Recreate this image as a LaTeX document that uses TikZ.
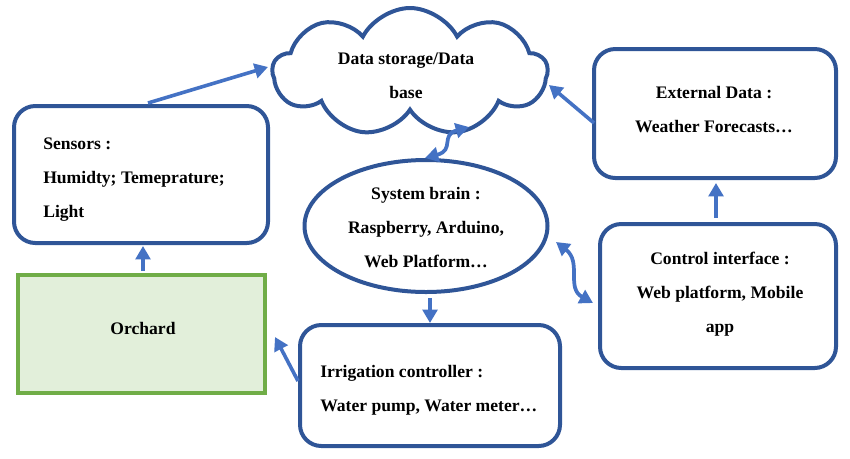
\documentclass[tikz,border=0pt]{standalone}
\usepackage{fontspec}
\setmainfont{Liberation Serif}
\usetikzlibrary{shapes.symbols,shapes.geometric,arrows.meta}
\definecolor{boxblue}{HTML}{2F5597}
\definecolor{arrblue}{HTML}{4472C4}
\definecolor{orchfill}{HTML}{E2EFDA}
\definecolor{orchline}{HTML}{70AD47}
\begin{document}
\begin{tikzpicture}[x=0.75pt,y=-0.75pt,
  rbox/.style={draw=boxblue,line width=3pt,rounded corners=16pt,inner sep=0pt},
  txt/.style={font=\bfseries\fontsize{13.2}{25.5}\selectfont,inner sep=0pt},
  arr/.style={draw=arrblue,line width=2.7pt,-{Triangle[length=10pt,width=11pt]}},
  darr/.style={draw=arrblue,line width=2.8pt,{Triangle[length=10pt,width=11pt]}-{Triangle[length=10pt,width=11pt]}}]
\useasboundingbox (0,0) rectangle (850,458);
% shapes
\node[cloud,draw=boxblue,line width=3pt,cloud puffs=9,cloud puff arc=125,aspect=2.2,
      minimum width=206pt,minimum height=96pt,inner sep=0pt] (cloud) at (410,72) {};
\node[rbox,minimum width=190.5pt,minimum height=102.75pt] (sensors) at (141,174.5) {};
\node[draw=orchline,fill=orchfill,line width=3pt,inner sep=0pt,minimum width=185.25pt,minimum height=88.5pt] (orchard) at (141.5,334) {};
\node[ellipse,draw=boxblue,line width=3pt,inner sep=0pt,minimum width=182.25pt,minimum height=99pt] (brain) at (426,226) {};
\node[rbox,minimum width=181.5pt,minimum height=96.75pt] (external) at (715,113.5) {};
\node[rbox,minimum width=177pt,minimum height=108pt] (control) at (718,296) {};
\node[rbox,minimum width=195pt,minimum height=90.75pt] (irrig) at (430,385.5) {};
% texts
\node[txt,align=center] (tcloud) at (406,76) {Data storage/Data\\base};
\node[txt,align=left,anchor=west] (tsensors) at (43,180) {Sensors :\\Humidty; Temeprature;\\Light};
\node[txt] (torchard) at (143,328) {Orchard};
\node[txt,align=center] (tbrain) at (426,228) {System brain :\\Raspberry, Arduino,\\Web Platform…};
\node[txt,align=center] (texternal) at (714,110) {External Data :\\Weather Forecasts…};
\node[txt,align=center] (tcontrol) at (720,294) {Control interface :\\Web platform, Mobile\\app};
\node[txt,align=left,anchor=west] (tirrig) at (320,390) {Irrigation controller :\\Water pump, Water meter…};
% connector end points
\coordinate (s1) at (148,103);
\coordinate (c1) at (268,67);
\coordinate (e1) at (594,123);
\coordinate (c2) at (549,85);
\coordinate (i1) at (298,381);
\coordinate (o1) at (275,337);
\coordinate (b1) at (425,158);
\coordinate (c3) at (469,127);
\coordinate (b2) at (556,242);
\coordinate (k1) at (593,303);
% connectors
\draw[arr] (s1) -- (c1);
\draw[arr] (orchard.north -| 143,0) ++(0,-2) -- (143,246);
\draw[arr] (e1) -- (c2);
\draw[arr] (control.north -| 716,0) ++(0,-4) -- (716,183);
\draw[arr] (i1) -- (o1);
\draw[arr] (430,298) -- (irrig.north -| 430,0);
\draw[darr] (b1) .. controls (455,150) and (440,135) .. (c3);
\draw[darr] (b2) .. controls (582,262) and (566,288) .. (k1);
\end{tikzpicture}
\end{document}
